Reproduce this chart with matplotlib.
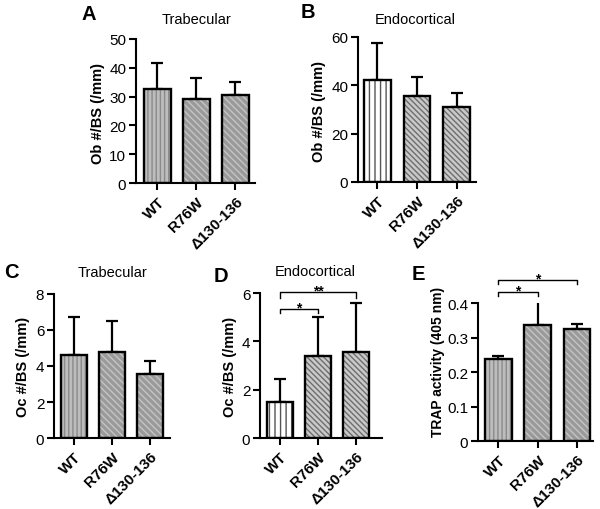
import matplotlib
matplotlib.use("Agg")
import matplotlib.pyplot as plt

plt.rcParams['font.family'] = ['Liberation Sans', 'DejaVu Sans']

groups = ["WT", "R76W", "\u0394130-136"]

# Panel A: Ob #/BS trabecular
a_mean = [32.7, 29.2, 30.5]
a_err = [9.0, 7.3, 4.7]
# Panel B: Ob #/BS endocortical
b_mean = [42.0, 35.5, 31.0]
b_err = [15.5, 8.0, 5.8]
# Panel C: Oc #/BS trabecular
c_mean = [4.6, 4.8, 3.55]
c_err = [2.1, 1.7, 0.75]
# Panel D: Oc #/BS endocortical
d_mean = [1.5, 3.4, 3.55]
d_err = [0.95, 1.6, 2.05]
# Panel E: TRAP activity
e_mean = [0.238, 0.337, 0.325]
e_err = [0.007, 0.068, 0.013]

fig = plt.figure(figsize=(6.0, 5.1), dpi=100)

W, H = 600.0, 510.0

def px(x, y):
    return x / W, 1 - y / H

panels = [
    dict(letter="A", title="Trabecular", ylabel="Ob #/BS (/mm)", mean=a_mean, err=a_err,
         rect=[0.2267, 0.6392, 0.1983, 0.2824], ylim=(0, 50), yticks=[0, 10, 20, 30, 40, 50],
         xlim=(-0.55, 2.5), style="dark", letter_xy=(81, 14), title_xy=(197, 20),
         ylab_xy=(98, 113), ylab_fs=10.5),
    dict(letter="B", title="Endocortical", ylabel="Ob #/BS (/mm)", mean=b_mean, err=b_err,
         rect=[0.5967, 0.6412, 0.1967, 0.2843], ylim=(0, 60), yticks=[0, 20, 40, 60],
         xlim=(-0.49, 2.49), style="light", letter_xy=(301, 13), title_xy=(415, 20),
         ylab_xy=(319, 111), ylab_fs=10.5),
    dict(letter="C", title="Trabecular", ylabel="Oc #/BS (/mm)", mean=c_mean, err=c_err,
         rect=[0.09, 0.1392, 0.1933, 0.2824], ylim=(0, 8), yticks=[0, 2, 4, 6, 8],
         xlim=(-0.51, 2.52), style="dark", letter_xy=(4, 273), title_xy=(112, 273),
         ylab_xy=(23, 367), ylab_fs=10.5),
    dict(letter="D", title="Endocortical", ylabel="Oc #/BS (/mm)", mean=d_mean, err=d_err,
         rect=[0.4333, 0.1392, 0.2033, 0.2843], ylim=(0, 6), yticks=[0, 2, 4, 6],
         xlim=(-0.53, 2.68), style="light", letter_xy=(214, 277), title_xy=(315, 272),
         ylab_xy=(230, 367), ylab_fs=10.5),
    dict(letter="E", title=None, ylabel="TRAP activity (405 nm)", mean=e_mean, err=e_err,
         rect=[0.7967, 0.1333, 0.1917, 0.2706], ylim=(0, 0.4), yticks=[0, 0.1, 0.2, 0.3, 0.4],
         xlim=(-0.52, 2.41), style="dark", letter_xy=(412, 275), title_xy=None,
         ylab_xy=(438, 362), ylab_fs=10),
]

for p in panels:
    ax = fig.add_axes(p["rect"])
    x = list(range(len(groups)))
    width = 0.68
    if p["style"] == "dark":
        fcs = ["#bdbdbd", "#9a9a9a", "#9a9a9a"]
        hcs = ["#8a8a8a", "#c4c4c4", "#c4c4c4"]
        hatches = ["||||", "\\\\\\\\\\", "\\\\\\\\\\"]
    else:
        fcs = ["white", "#c9c9c9", "#c9c9c9"]
        hcs = ["#555555", "#6e6e6e", "#6e6e6e"]
        hatches = ["|||", "\\\\\\\\\\\\", "\\\\\\\\\\\\"]
    for i in range(len(groups)):
        ax.bar(x[i], p["mean"][i], width=width, color=fcs[i], edgecolor=hcs[i],
               hatch=hatches[i], linewidth=0, zorder=2)
        ax.bar(x[i], p["mean"][i], width=width, fill=False, edgecolor="black",
               linewidth=1.7, zorder=3)
    ax.errorbar(x, p["mean"], yerr=[[0] * 3, p["err"]], fmt="none", ecolor="black",
                elinewidth=1.6, capsize=4.5, capthick=1.6, zorder=1)
    ax.set_xlim(*p["xlim"])
    ax.set_ylim(*p["ylim"])
    ax.set_yticks(p["yticks"])
    if p["letter"] == "E":
        ax.set_yticklabels(["0", "0.1", "0.2", "0.3", "0.4"])
    ax.set_xticks(x)
    ax.set_xticklabels(groups, rotation=45, ha="right", va="top", rotation_mode="anchor",
                       fontweight="bold", fontsize=10.5)
    ax.tick_params(axis="both", direction="out", length=5, width=1.5, labelsize=11, pad=2)
    ax.tick_params(axis="x", pad=3)
    for s in ["top", "right"]:
        ax.spines[s].set_visible(False)
    for s in ["left", "bottom"]:
        ax.spines[s].set_linewidth(1.5)
    fx, fy = px(*p["letter_xy"])
    fig.text(fx, fy, p["letter"], fontsize=14.5, fontweight="bold", ha="left", va="center")
    if p["title"]:
        tx, ty = px(*p["title_xy"])
        fig.text(tx, ty, p["title"], fontsize=10.5, ha="center", va="center")
    lx, ly = px(*p["ylab_xy"])
    fig.text(lx, ly, p["ylabel"], fontsize=p["ylab_fs"], fontweight="bold",
             rotation=90, ha="center", va="center")

    if p["letter"] == "D":
        brackets = [(0, 1, 5.34, 5.16, "*"), (0, 2, 6.03, 5.79, "**")]
    elif p["letter"] == "E":
        brackets = [(0, 1, 0.431, 0.421, "*"), (0, 2, 0.467, 0.455, "*")]
    else:
        brackets = []
    for x0, x1, ytop, ytip, lab in brackets:
        ax.plot([x0, x0, x1, x1], [ytip, ytop, ytop, ytip], color="black", lw=1.0,
                clip_on=False, zorder=4)
        ax.annotate(lab, xy=((x0 + x1) / 2, ytop), xytext=(0, -1.5),
                    textcoords="offset points", ha="center", va="baseline",
                    fontsize=10, fontweight="bold", annotation_clip=False)

fig.savefig("out.png", dpi=100)
